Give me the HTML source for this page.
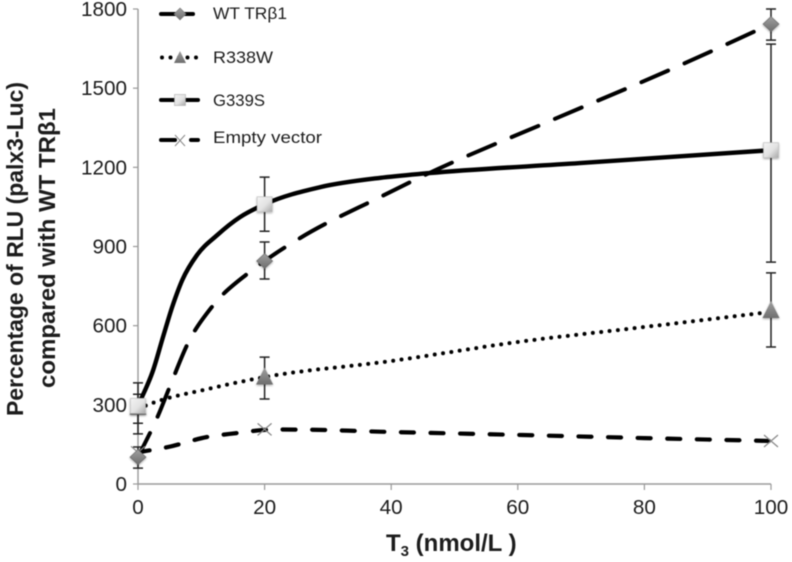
<!DOCTYPE html>
<html lang="en">
<head>
<meta charset="utf-8">
<title>Percentage of RLU versus T3 dose</title>
<style>
html,body{margin:0;padding:0;background:#fff;}
#chart{display:block;width:792px;height:562px;filter:blur(0.5px);}
text{font-family:"Liberation Sans",sans-serif;fill:#1c1c1c;}
</style>
</head>
<body>
<svg id="chart" xmlns="http://www.w3.org/2000/svg" width="792" height="562" viewBox="0 0 792 562">
  <defs>
    <linearGradient id="sq" x1="0" y1="0" x2="1" y2="1">
      <stop offset="0" stop-color="#f4f4f4"/><stop offset="0.55" stop-color="#e2e2e2"/><stop offset="1" stop-color="#a8a8a8"/>
    </linearGradient>
    <linearGradient id="di" x1="0" y1="0" x2="0" y2="1">
      <stop offset="0" stop-color="#a0a0a0"/><stop offset="1" stop-color="#6e6e6e"/>
    </linearGradient>
    <filter id="sh" x="-40%" y="-40%" width="180%" height="180%">
      <feDropShadow dx="0" dy="1" stdDeviation="1" flood-color="#000" flood-opacity="0.35"/>
    </filter>
  </defs>
  <g id="axes"></g>
  <g id="errors"></g>
  <g id="lines"></g>
  <g id="markers"></g>

  <text transform="translate(23,416) rotate(-90)" font-size="23" font-weight="bold" textLength="334" lengthAdjust="spacingAndGlyphs">Percentage of RLU (palx3-Luc)</text>
  <text transform="translate(55,388) rotate(-90)" font-size="23" font-weight="bold" textLength="280" lengthAdjust="spacingAndGlyphs">compared with WT TRβ1</text>
  <text x="386" y="551" font-size="24" font-weight="bold">T<tspan font-size="15" dy="5">3</tspan><tspan dy="-5"> (nmol/L )</tspan></text>

  <g>
    <g>
      <line x1="161" x2="193" y1="14" y2="14" stroke="#000" stroke-width="4" stroke-linecap="round"/>
      <path d="M180 8 L186 14 L180 20 L174 14 Z" fill="url(#di)" stroke="#777" stroke-width="0.6"/>
      <text x="213" y="19" font-size="17" textLength="74" lengthAdjust="spacingAndGlyphs">WT TRβ1</text>
    </g>
    <g>
      <line x1="162" x2="199" y1="57.500" y2="57.500" stroke="#000" stroke-width="4" stroke-linecap="round" stroke-dasharray="0 8.500"/>
      <path d="M180 51 L186 63 L174 63 Z" fill="url(#di)"/>
      <text x="213" y="63" font-size="17" textLength="60" lengthAdjust="spacingAndGlyphs">R338W</text>
    </g>
    <g>
      <line x1="161" x2="198" y1="100" y2="100" stroke="#000" stroke-width="4" stroke-linecap="round"/>
      <rect x="174.500" y="94.500" width="11" height="11" fill="url(#sq)" stroke="#aaa" stroke-width="0.6"/>
      <text x="213" y="106" font-size="17" textLength="52" lengthAdjust="spacingAndGlyphs">G339S</text>
    </g>
    <g>
      <line x1="161" x2="175" y1="140" y2="140" stroke="#000" stroke-width="4" stroke-linecap="round"/>
      <line x1="191" x2="198" y1="140" y2="140" stroke="#000" stroke-width="4" stroke-linecap="round"/>
      <path d="M175 135 L185 146 M175 146 L185 135" stroke="#888" stroke-width="1" fill="none"/>
      <text x="213" y="143" font-size="17" textLength="109" lengthAdjust="spacingAndGlyphs">Empty vector</text>
    </g>
  </g>
</svg>
<script>
// ---- chart data ----
const xTickLabels = [0, 20, 40, 60, 80, 100];
const yTickLabels = [0, 300, 600, 900, 1200, 1500, 1800];
const doses = [0, 20, 100];

const wtValues = [102, 845, 1743];
const wtUpper = [140, 917, 1800];
const wtLower = [60, 777, 1682];

const r338wValues = [285, 400, 652];
const r338wUpper = [340, 481, 800];
const r338wLower = [230, 322, 519];

const g339sValues = [296, 1060, 1265];
const g339sUpper = [383, 1163, 1667];
const g339sLower = [190, 958, 841];

const emptyValues = [120, 207, 163];

// Smoothed line shapes (dose, value)
const wtCurveX = [0, 3.2, 5, 7.9, 11.8, 17.4, 20, 25.6, 38.2, 45, 65.4, 83.6, 100];
const wtCurveY = [102, 261, 368, 534, 675, 799, 845, 932, 1087, 1167, 1379, 1565, 1743];
const r338wCurveX = [0, 1.4, 11.8, 20, 40, 60, 80, 100];
const r338wCurveY = [285, 299, 364, 405, 466, 538, 595, 652];
const g339sCurveX = [0, 2.4, 3.95, 5.4, 7, 9.3, 12.5, 16.1, 20, 28.8, 38.2, 46, 69.8, 100];
const g339sCurveY = [296, 432, 557, 671, 773, 867, 943, 1011, 1060, 1125, 1160, 1178, 1216, 1265];
const emptyCurveX = [0, 4.7, 10.9, 15.6, 20, 25, 40, 60, 80, 100];
const emptyCurveY = [120, 140, 178, 193, 205, 206, 197, 186, 174, 163];

// ---- axis functions ----
const NS = 'http://www.w3.org/2000/svg';
const xAt = v => 138 + v * 6.33;
const yAt = v => 484 - v * (475 / 1800);

function make(tag, parent, attrs) {
  const el = document.createElementNS(NS, tag);
  for (const k in attrs) el.setAttribute(k, attrs[k]);
  parent.appendChild(el);
  return el;
}
// Non-uniform cubic Hermite through the knots, written as Bezier segments
function smoothPath(xs, ys) {
  const px = xs.map(xAt), py = ys.map(yAt), n = px.length;
  const slope = i => (py[i + 1] - py[i]) / (px[i + 1] - px[i]);
  const m = px.map((_, i) => {
    if (i === 0) return slope(0);
    if (i === n - 1) return slope(n - 2);
    const h0 = px[i] - px[i - 1], h1 = px[i + 1] - px[i];
    return (slope(i - 1) * h1 + slope(i) * h0) / (h0 + h1);
  });
  let d = 'M' + px[0].toFixed(1) + ' ' + py[0].toFixed(1);
  for (let i = 0; i < n - 1; i++) {
    const h = px[i + 1] - px[i];
    d += 'C' + (px[i] + h / 3).toFixed(1) + ' ' + (py[i] + m[i] * h / 3).toFixed(1) + ' ' +
         (px[i + 1] - h / 3).toFixed(1) + ' ' + (py[i + 1] - m[i + 1] * h / 3).toFixed(1) + ' ' +
         px[i + 1].toFixed(1) + ' ' + py[i + 1].toFixed(1);
  }
  return d;
}
// Shift the dash pattern so a dash finishes `tail` px before the end of the path
function alignDashes(path, dash, gap, tail) {
  const period = dash + gap;
  const L = path.getTotalLength();
  const o = (((dash + tail - L) % period) + period) % period;
  path.setAttribute('stroke-dasharray', dash + ' ' + gap);
  path.setAttribute('stroke-dashoffset', o.toFixed(2));
}

// ---- axes ----
const axes = document.getElementById('axes');
const yLine = make('line', axes, {x1: xAt(0), x2: xAt(0), y1: yAt(1800), y2: yAt(0), stroke: '#999', 'stroke-width': 1.4});


const xLine = make('line', axes, {x1: xAt(0), x2: xAt(100), y1: yAt(0), y2: yAt(0), stroke: '#999', 'stroke-width': 1.4});



yTickLabels.forEach(v => {
  const t = make('line', axes, {x1: xAt(0) - 5, x2: xAt(0), y1: yAt(v), y2: yAt(v), stroke: '#999', 'stroke-width': 1.2});
  
  
  const s = String(v);
  const l = make('text', axes, {x: 127, y: yAt(v) + 7, 'font-size': 20, 'text-anchor': 'end', textLength: s.length * 11.5, lengthAdjust: 'spacingAndGlyphs'});
  l.textContent = s;
  
  
});
xTickLabels.forEach(v => {
  const t = make('line', axes, {x1: xAt(v), x2: xAt(v), y1: yAt(0), y2: yAt(0) + 6, stroke: '#999', 'stroke-width': 1.2});
  
  
  const s = String(v);
  const l = make('text', axes, {x: xAt(v), y: 514, 'font-size': 20, 'text-anchor': 'middle', textLength: s.length * 11.5, lengthAdjust: 'spacingAndGlyphs'});
  l.textContent = s;
  
  
});

// ---- error bars ----
const errors = document.getElementById('errors');
function drawErrors(upper, lower) {
  doses.forEach((d, i) => {
    const g = make('path', errors, {
      d: 'M' + xAt(d) + ' ' + yAt(upper[i]) + 'V' + yAt(lower[i]) +
         'M' + (xAt(d) - 5) + ' ' + yAt(upper[i]) + 'h10' +
         'M' + (xAt(d) - 5) + ' ' + yAt(lower[i]) + 'h10',
      stroke: '#222', 'stroke-width': 1.5, fill: 'none'
    });
    
    
  });
}
drawErrors(wtUpper, wtLower);
drawErrors(r338wUpper, r338wLower);
drawErrors(g339sUpper, g339sLower);

// ---- lines ----
const lines = document.getElementById('lines');
const emptyLine = make('path', lines, {d: smoothPath(emptyCurveX, emptyCurveY), fill: 'none', stroke: '#000', 'stroke-width': 4.2, 'stroke-linecap': 'round'});


alignDashes(emptyLine, 13, 16.6, 2);
const r338wLine = make('path', lines, {d: smoothPath(r338wCurveX, r338wCurveY), fill: 'none', stroke: '#000', 'stroke-width': 4, 'stroke-linecap': 'round', 'stroke-dasharray': '0 8.4'});


const wtLine = make('path', lines, {d: smoothPath(wtCurveX, wtCurveY), fill: 'none', stroke: '#000', 'stroke-width': 4, 'stroke-linecap': 'round'});


alignDashes(wtLine, 29, 18, 19);
const g339sLine = make('path', lines, {d: smoothPath(g339sCurveX, g339sCurveY), fill: 'none', stroke: '#000', 'stroke-width': 4.4, 'stroke-linecap': 'round'});



// ---- markers ----
const markers = document.getElementById('markers');
emptyValues.forEach((v, i) => {
  const x = xAt(doses[i]), y = yAt(v);
  const m = make('path', markers, {d: 'M' + (x - 7) + ' ' + (y - 6) + 'L' + (x + 7) + ' ' + (y + 6) + 'M' + (x - 7) + ' ' + (y + 6) + 'L' + (x + 7) + ' ' + (y - 6), stroke: '#888', 'stroke-width': 1.2, fill: 'none'});
  
  
});
r338wValues.forEach((v, i) => {
  const x = xAt(doses[i]), y = yAt(v);
  const m = make('path', markers, {d: 'M' + x + ' ' + (y - 11) + 'L' + (x + 8.5) + ' ' + (y + 6) + 'L' + (x - 8.5) + ' ' + (y + 6) + 'Z', fill: 'url(#di)', filter: 'url(#sh)'});
  
  
});
wtValues.forEach((v, i) => {
  const x = xAt(doses[i]), y = yAt(v);
  const m = make('path', markers, {d: 'M' + x + ' ' + (y - 7.5) + 'L' + (x + 8) + ' ' + y + 'L' + x + ' ' + (y + 7.5) + 'L' + (x - 8) + ' ' + y + 'Z', fill: 'url(#di)', stroke: '#666', 'stroke-width': 0.6, filter: 'url(#sh)'});
  
  
});
g339sValues.forEach((v, i) => {
  const x = xAt(doses[i]), y = yAt(v);
  const m = make('rect', markers, {x: x - 7.5, y: y - 7.5, width: 15, height: 15, fill: 'url(#sq)', stroke: '#bbb', 'stroke-width': 0.6, filter: 'url(#sh)'});
  
  
});
</script>
</body>
</html>
